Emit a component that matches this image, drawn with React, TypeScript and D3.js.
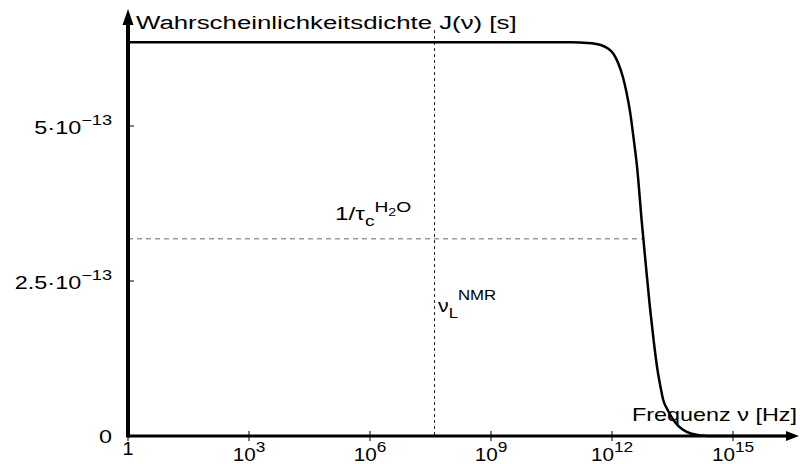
import { useEffect, useRef } from 'react';
import * as d3 from 'd3';

// log10 of frequency (Hz) and spectral density J in 1e-13 s
const logNu = [0, 6, 10, 11, 11.4, 11.7, 11.9, 12.03, 12.15, 12.27, 12.36, 12.45, 12.54, 12.62, 12.74, 12.84, 12.94, 13.04, 13.12, 13.2, 13.27, 13.38, 13.49, 13.62, 13.76, 13.95, 14.2, 14.6, 16.4];
const density = [6.35, 6.35, 6.35, 6.35, 6.34, 6.31, 6.25, 6.17, 6.02, 5.79, 5.54, 5.22, 4.78, 4.35, 3.44, 2.75, 2.08, 1.5, 1.1, 0.8, 0.58, 0.42, 0.29, 0.18, 0.1, 0.04, 0.01, 0, 0];

const xTickExps = [0, 3, 6, 9, 12, 15];
const yTicks = [2.5e-13, 5e-13];
const yTickMantissa = ['2.5', '5'];

const larmorLog = 7.6; // nu_L NMR
const halfDensity = 3.18e-13;
const halfLog = 12.77; // 1/tau_c H2O

export default function App() {
  const svgRef = useRef<SVGSVGElement>(null);

  useEffect(() => {
    const svg = d3.select(svgRef.current);
    svg.selectAll('*').remove();

    const width = 800;
    const height = 464;
    const font = '"Liberation Sans", Arial, Helvetica, sans-serif';

    const x = d3.scaleLinear().domain([0, 15]).range([128, 733]);
    const y = d3.scaleLinear().domain([0, 5e-13]).range([436, 126]);

    svg.attr('width', width).attr('height', height).style('font-family', font);

    // text in the original is drawn a bit wider than the font
    const label = (px: number, py: number, size: number, sx: number, anchor = 'start') =>
      svg.append('text')
        .attr('transform', `translate(${px},${py}) scale(${sx},1)`)
        .attr('text-anchor', anchor)
        .attr('font-size', size)
        .attr('fill', '#000');

    // dashed guides
    svg.append('line')
      .attr('x1', x(larmorLog)).attr('x2', x(larmorLog))
      .attr('y1', 30).attr('y2', y(0))
      .attr('stroke', '#222').attr('stroke-width', 1)
      .attr('stroke-dasharray', '3,3');

    svg.append('line')
      .attr('x1', x(0)).attr('x2', x(halfLog))
      .attr('y1', y(halfDensity)).attr('y2', y(halfDensity))
      .attr('stroke', '#666').attr('stroke-width', 1)
      .attr('stroke-dasharray', '5,4');

    // curve
    const pts: [number, number][] = logNu.map((v, i) => [v, density[i] * 1e-13]);
    const line = d3.line<[number, number]>()
      .x(d => x(d[0]))
      .y(d => y(d[1]))
      .curve(d3.curveMonotoneX);

    svg.append('path')
      .datum(pts)
      .attr('d', line)
      .attr('fill', 'none')
      .attr('stroke', '#000')
      .attr('stroke-width', 2.5);

    // x axis
    const xAxis = svg.append('g').attr('transform', `translate(0,${y(0)})`);
    xAxis.append('line')
      .attr('x1', x(0)).attr('x2', 788)
      .attr('stroke', '#000').attr('stroke-width', 3);
    xAxis.append('path')
      .attr('d', 'M786,-5 L799,0 L786,5 Z')
      .attr('fill', '#000');
    xAxis.selectAll('line.tick')
      .data(xTickExps)
      .join('line')
      .attr('class', 'tick')
      .attr('x1', d => x(d)).attr('x2', d => x(d))
      .attr('y1', -5).attr('y2', 5)
      .attr('stroke', '#000').attr('stroke-width', 1);

    xTickExps.forEach(e => {
      if (e === 0) {
        label(x(e), 455, 18, 1.1, 'middle').text('1');
      } else {
        const t = label(x(e), 461, 18, 1.15, 'middle');
        t.append('tspan').text('10');
        t.append('tspan').attr('font-size', 15).attr('dy', -9).text(String(e));
      }
    });

    // y axis
    const yAxis = svg.append('g');
    yAxis.append('line')
      .attr('x1', x(0)).attr('x2', x(0))
      .attr('y1', y(0) + 1.5).attr('y2', 22)
      .attr('stroke', '#000').attr('stroke-width', 4);
    yAxis.append('path')
      .attr('d', `M${x(0) - 5.5},25 L${x(0)},9 L${x(0) + 5.5},25 Z`)
      .attr('fill', '#000');

    yAxis.selectAll('line.tick')
      .data(yTicks)
      .join('line')
      .attr('class', 'tick')
      .attr('x1', x(0)).attr('x2', x(0) + 6)
      .attr('y1', d => y(d)).attr('y2', d => y(d))
      .attr('stroke', '#000').attr('stroke-width', 1);

    yTicks.forEach((v, i) => {
      const t = label(112, y(v) + 8, 18, 1.3, 'end');
      t.append('tspan').text(`${yTickMantissa[i]}·10`);
      t.append('tspan').attr('font-size', 14).attr('dy', -9).text('−13');
    });

    label(112, y(0) + 7, 18, 1.3, 'end').text('0');

    // axis titles
    label(136, 29, 19, 1.36).text('Wahrscheinlichkeitsdichte J(ν) [s]');
    label(797, 421, 18, 1.3, 'end').text('Frequenz ν [Hz]');

    // annotations
    const tau = label(335, 220, 19, 1.28);
    tau.append('tspan').text('1/τ');
    tau.append('tspan').attr('font-size', 15).attr('dy', 6).text('c');
    tau.append('tspan').attr('font-size', 15).attr('dy', -14).text('H');
    tau.append('tspan').attr('font-size', 11).attr('dy', 4).text('2');
    tau.append('tspan').attr('font-size', 15).attr('dy', -4).text('O');

    const nu = label(438, 312, 19, 1.12);
    nu.append('tspan').text('ν');
    nu.append('tspan').attr('font-size', 15).attr('dy', 6).text('L');
    nu.append('tspan').attr('font-size', 15).attr('dy', -18).text('NMR');
  }, []);

  return (
    <svg
      ref={svgRef}
      style={{ position: 'absolute', left: 0, top: 0, display: 'block', background: '#fff' }}
    />
  );
}
